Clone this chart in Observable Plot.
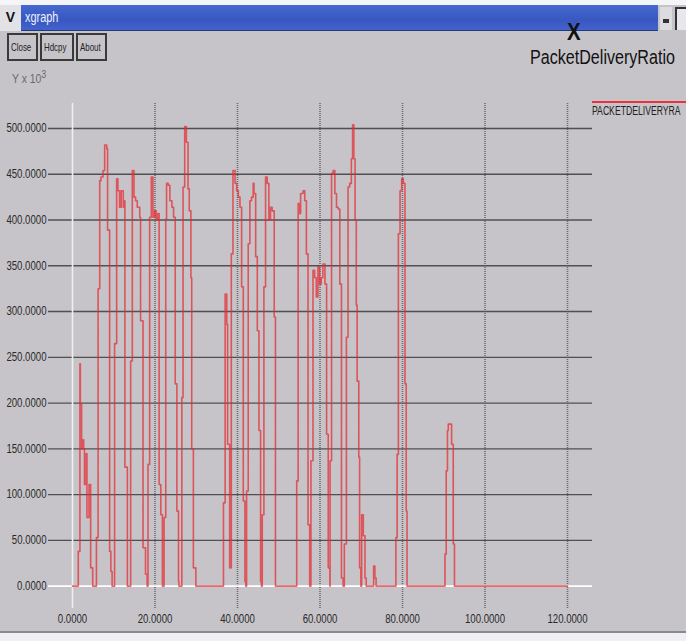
<!DOCTYPE html>
<html>
<head>
<meta charset="utf-8">
<script src="https://cdn.jsdelivr.net/npm/d3@7"></script>
<script src="https://cdn.jsdelivr.net/npm/@observablehq/plot@0.6"></script>
<style>
  html, body { margin: 0; padding: 0; background: #c6c4c9; }
  #win { position: relative; width: 686px; height: 641px; overflow: hidden; background: #c6c4c9; font-family: "Liberation Sans", Arial, sans-serif; }
  #topwhite { position: absolute; left: 0; top: 0; width: 686px; height: 5px; background: #f4f5f8; }
  #vbox { position: absolute; left: 0; top: 5px; width: 21px; height: 26px; background: #e2e2e6; font: bold 14px "Liberation Sans", sans-serif; color: #111; text-align: center; line-height: 24px; }
  #titlebar { position: absolute; left: 21px; top: 5px; width: 637px; height: 25px; background: linear-gradient(#4668d0, #3857c0 60%, #4363cc); border-bottom: 1px solid #24387e; }
  #titlebar span { position: absolute; left: 4px; top: 4px; color: #eef1ff; font: 14px "Liberation Sans", sans-serif; transform: scaleX(0.78); transform-origin: 0 0; }
  #rbox1 { position: absolute; left: 660px; top: 7px; width: 12px; height: 23px; background: #dcdce0; }
  #rbox1::after { content: ""; position: absolute; left: 3px; top: 12px; width: 6px; height: 4px; background: #333; }
  #rbox2 { position: absolute; left: 675px; top: 7px; width: 11px; height: 23px; background: #e8e8ec; border-left: 2px solid #333; border-top: 2px solid #333; box-sizing: border-box; }
  .btn { position: absolute; top: 33px; height: 28px; box-sizing: border-box; border: 2px solid #3a3a3a; background: #c6c4c9; color: #222; overflow: hidden; }
  .btn span { position: absolute; left: 2px; top: 6px; font: 11px "Liberation Sans", sans-serif; transform: scaleX(0.72); transform-origin: 0 0; white-space: nowrap; }
  #ylab { position: absolute; left: 12px; top: 68px; font: 13px "Liberation Sans", sans-serif; color: #6a6a6a; transform: scaleX(0.8); transform-origin: 0 0; white-space: nowrap; }
  #xlab { position: absolute; left: 567px; top: 19px; font: bold 24px "Liberation Sans", sans-serif; line-height: 26px; color: #111; transform: scaleX(0.85); transform-origin: 0 0; }
  #title { position: absolute; left: 530px; top: 46px; font: 20px "Liberation Sans", sans-serif; line-height: 23px; color: #111; white-space: nowrap; transform: scaleX(0.805); transform-origin: 0 0; }
  #legline { position: absolute; left: 592px; top: 101px; width: 94px; height: 2px; background: #e8343a; }
  #legtext { position: absolute; left: 592px; top: 104px; font: 12px "Liberation Sans", sans-serif; color: #222; white-space: nowrap; transform: scaleX(0.72); transform-origin: 0 0; }
  #bottom { position: absolute; left: 0; top: 631px; width: 686px; height: 10px; background: #f0f0f2; border-top: 2px solid #8a8a8e; box-sizing: border-box; }
  #chart { position: absolute; left: 0; top: 0; }
  #chart svg { font-family: "Liberation Sans", sans-serif; }
</style>
</head>
<body>
<div id="win">
  <div id="chart"></div>
  <div id="topwhite"></div>
  <div id="vbox">V</div>
  <div id="titlebar"><span>xgraph</span></div>
  <div id="rbox1"></div>
  <div id="rbox2"></div>
  <div class="btn" style="left:7px;width:31px;"><span>Close</span></div>
  <div class="btn" style="left:40px;width:34px;"><span>Hdcpy</span></div>
  <div class="btn" style="left:76px;width:31px;"><span>About</span></div>
  <div id="ylab">Y x 10<sup style="font-size:11px">3</sup></div>
  <div id="xlab">X</div>
  <div id="title">PacketDeliveryRatio</div>
  <div id="legline"></div>
  <div id="legtext">PACKETDELIVERYRA</div>
  <div id="bottom"></div>
</div>
<script>
// Series: PacketDeliveryRatio (Y x 10^3) vs time X
const timeX = [
  0, 1.3, 1.4, 1.8, 1.9, 2.2, 2.5, 2.7, 2.9, 3.3, 3.5, 4.0, 4.4, 4.9,
  5.7, 5.8, 6.2, 6.6, 6.9, 7.4, 7.8, 8.3, 8.5, 9.0, 9.3, 9.6,
  10.0, 10.2, 10.7, 11.0, 11.4, 11.8, 12.3, 12.5, 12.7, 13.3,
  13.8, 14.1, 14.5, 14.9, 15.3, 15.7, 16.3, 16.5, 17.1, 17.7, 18.1,
  18.3, 18.7, 19.1, 19.5, 19.9, 20.3, 20.7, 21.0, 21.4, 21.8,
  22.2, 22.6, 22.8, 23.2, 23.6, 24.1, 24.5, 24.9, 25.3, 25.7, 25.8,
  26.2, 26.5, 26.8, 27.2, 27.6, 28.0, 28.3, 28.7, 28.9, 29.3, 29.9,
  36.5, 36.6, 37.0, 37.4, 37.6, 38.1, 38.5, 38.9, 39.4, 39.8, 40.2, 40.6, 41.0, 41.4, 41.8, 42.0,
  42.2, 42.6, 43.0, 43.4, 43.8, 44.0, 44.4, 44.8, 45.2, 45.6, 45.8,
  46.0, 46.4, 46.8, 47.2, 47.6, 48.0, 48.4, 48.9, 49.2,
  54.3, 54.35, 54.7, 55.1, 55.3, 55.9, 56.3, 56.7, 57.1, 57.5,
  57.8, 58.3, 58.7, 59.1, 59.5, 59.9, 60.3, 60.7, 61.2, 61.6, 62.0, 62.4,
  62.45, 62.8, 63.2, 63.6, 64.0, 64.4, 64.8, 65.2, 65.6,
  65.9, 66.4, 66.8, 67.2, 67.6, 67.9, 68.2, 68.5, 68.8, 69.0, 69.4, 69.6, 69.9,
  70.1, 70.5, 70.9, 71.2, 72.8, 73.0, 73.3, 73.6,
  78.2, 78.4, 78.7, 79.0, 79.4, 79.8, 80.2, 80.6, 80.9, 81.1,
  90.1, 90.3, 90.6, 90.9, 91.1, 91.7, 91.9, 92.3, 92.6,
  120
];
const pdrY = [
  0, 0, 38, 243, 199, 150, 160, 150, 111, 145, 75, 111, 20, 0,
  0, 53, 325, 443, 447, 454, 482, 478, 389, 38, 16, 0,
  0, 265, 445, 432, 414, 432, 414, 421, 130, 0,
  0, 246, 454, 425, 421, 414, 403, 290, 42, 13, 0,
  133, 403, 447, 403, 410, 400, 407, 111, 78, 0,
  75, 401, 440, 438, 421, 414, 403, 221, 82, 5, 0,
  0, 206, 436, 502, 485, 434, 410, 337, 150, 20, 0,
  0, 91, 319, 286, 155, 20, 363, 454, 440, 432, 425, 414, 327, 93, 5, 0,
  104, 374, 421, 425, 440, 429, 360, 279, 170, 5, 0,
  78, 327, 447, 440, 400, 414, 410, 294, 0,
  0, 115, 418, 407, 429, 432, 421, 363, 67, 0,
  137, 345, 337, 316, 349, 330, 337, 352, 330, 166, 20, 0,
  137, 451, 454, 429, 414, 412, 330, 9, 0,
  46, 272, 436, 440, 467, 504, 467, 400, 307, 224, 141, 20, 0,
  78, 55, 9, 0, 0, 22, 9, 0,
  0, 53, 144, 385, 432, 445, 440, 221, 82, 0,
  0, 35, 126, 170, 177, 177, 155, 46, 0,
  0
];
const xTicks = [0, 20, 40, 60, 80, 100, 120];
const yTicks = [0, 50, 100, 150, 200, 250, 300, 350, 400, 450, 500];

const data = timeX.map((x, i) => ({x, y: pdrY[i]}));

const fmt = d => d.toFixed(4);

const chart = Plot.plot({
  width: 686,
  height: 641,
  marginLeft: 48,
  marginRight: 94,
  marginTop: 103,
  marginBottom: 33,
  style: {background: "transparent", fontSize: "12px", color: "#2a2a2a"},
  x: {domain: [-5.82, 126.06]},
  y: {domain: [-24.4, 527.3]},
  marks: [
    Plot.ruleY(yTicks.filter(d => d > 0), {stroke: "#3c3c3c", strokeWidth: 1.4, strokeOpacity: 0.85}),
    Plot.ruleX(xTicks.filter(d => d > 0), {stroke: "#555", strokeWidth: 1.6, strokeDasharray: "1,1", strokeOpacity: 0.8}),
    Plot.ruleY([0], {stroke: "#ffffff", strokeWidth: 1.6}),
    Plot.ruleX([0], {stroke: "#eeeeee", strokeWidth: 1.6}),
    Plot.line(data, {x: "x", y: "y", curve: "step-after", stroke: "#e62a30", strokeWidth: 1.6, strokeOpacity: 0.72}),
    Plot.axisY(yTicks, {tickSize: 0, tickPadding: 2, tickFormat: fmt, label: null}),
    Plot.axisX(xTicks, {tickSize: 0, tickPadding: 6, tickFormat: fmt, label: null})
  ]
});
document.getElementById("chart").appendChild(chart);
// condense tick label text (narrow font look)
chart.querySelectorAll("g[aria-label$='tick label'] text").forEach(t => {
  const w = t.getComputedTextLength();
  t.setAttribute("textLength", (w * 0.8).toFixed(1));
  t.setAttribute("lengthAdjust", "spacingAndGlyphs");
});
</script>
</body>
</html>
